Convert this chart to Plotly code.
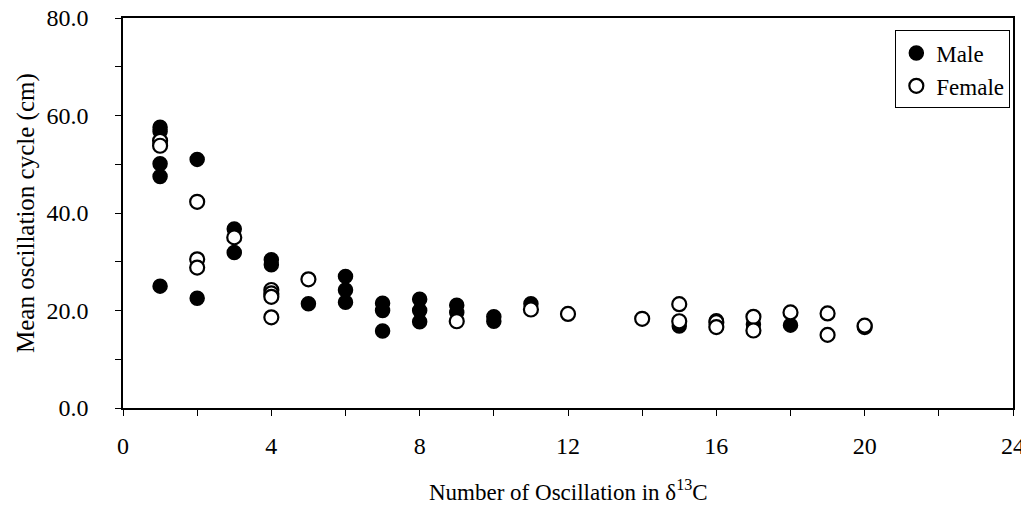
import plotly.graph_objects as go

male_x = [1, 1, 1, 1, 1, 2, 2, 3, 3, 4, 4, 5, 6, 6, 6, 7, 7, 7, 8, 8, 8, 9, 9, 10, 10, 11, 15, 16, 17, 18]
male_y = [57.6, 56.7, 50.1, 47.5, 25.0, 51.0, 22.5, 36.7, 31.9, 30.4, 29.4, 21.4, 27.0, 24.2, 21.7,
          21.5, 20.0, 15.8, 22.3, 20.0, 17.7, 21.1, 19.6, 18.7, 17.8, 21.4, 16.8, 17.9, 17.2, 17.0]

female_x = [1, 1, 2, 2, 2, 3, 4, 4, 4, 4, 5, 9, 11, 12, 14, 15, 15, 16, 16, 17, 17, 18, 19, 19, 20, 20]
female_y = [54.8, 53.8, 42.3, 30.5, 28.8, 35.0, 24.2, 23.5, 22.8, 18.6, 26.4, 17.8, 20.2, 19.3, 18.3,
            21.3, 17.8, 17.6, 16.6, 18.7, 15.9, 19.6, 19.4, 15.0, 16.6, 16.9]

x_ticks = [0, 4, 8, 12, 16, 20, 24]
y_ticks = [0, 20, 40, 60, 80]
y_tick_labels = ["0.0", "20.0", "40.0", "60.0", "80.0"]

x_title = "Number of Oscillation in δ<sup>13</sup>C"
y_title = "Mean oscillation cycle (cm)"

FONT = "Liberation Serif, Times New Roman, serif"

fig = go.Figure()
fig.add_trace(go.Scatter(
    x=male_x, y=male_y, mode="markers", name="Male",
    marker=dict(symbol="circle", size=14, color="black", line=dict(color="black", width=1.5)),
))
fig.add_trace(go.Scatter(
    x=female_x, y=female_y, mode="markers", name="Female",
    marker=dict(symbol="circle", size=14, color="white", line=dict(color="black", width=2.2)),
))

fig.update_layout(
    width=1021, height=509,
    margin=dict(l=115, r=16, t=10, b=109, autoexpand=False),
    paper_bgcolor="white", plot_bgcolor="white",
    font=dict(family=FONT, size=24, color="black"),
    showlegend=True,
    legend=dict(
        x=0.997, y=0.968, xanchor="right", yanchor="top",
        bgcolor="white", bordercolor="black", borderwidth=1,
        font=dict(family=FONT, size=23, color="black"),
        itemwidth=30,
    ),
    annotations=[
        dict(text=x_title, xref="paper", yref="paper", x=0.5, y=0, yshift=-82,
             xanchor="center", yanchor="middle", showarrow=False,
             font=dict(family=FONT, size=23, color="black")),
        dict(text=y_title, xref="paper", yref="paper", x=0, y=0.5, xshift=-97,
             xanchor="center", yanchor="middle", showarrow=False, textangle=-90,
             font=dict(family=FONT, size=25, color="black")),
    ],
)

fig.update_xaxes(
    range=[0, 24], tickvals=x_ticks, ticktext=[str(v) for v in x_ticks],
    showgrid=False, zeroline=False, automargin=False, ticklabeloverflow="allow",
    showline=True, linecolor="black", linewidth=1.5, mirror=True,
    ticks="outside", ticklen=6, tickcolor="black", tickwidth=1,
    ticklabelstandoff=9, tickfont=dict(family=FONT, size=24),
    minor=dict(dtick=2, tick0=0, ticks="outside", ticklen=6, tickcolor="black", tickwidth=1, showgrid=False),
)
fig.update_yaxes(
    range=[0, 80], tickvals=y_ticks, ticktext=y_tick_labels,
    showgrid=False, zeroline=False, automargin=False, ticklabeloverflow="allow",
    showline=True, linecolor="black", linewidth=1.5, mirror=True,
    ticks="outside", ticklen=6, tickcolor="black", tickwidth=1,
    ticklabelstandoff=22, tickfont=dict(family=FONT, size=24),
    minor=dict(dtick=10, tick0=0, ticks="outside", ticklen=6, tickcolor="black", tickwidth=1, showgrid=False),
)

fig.write_html("out.html")
